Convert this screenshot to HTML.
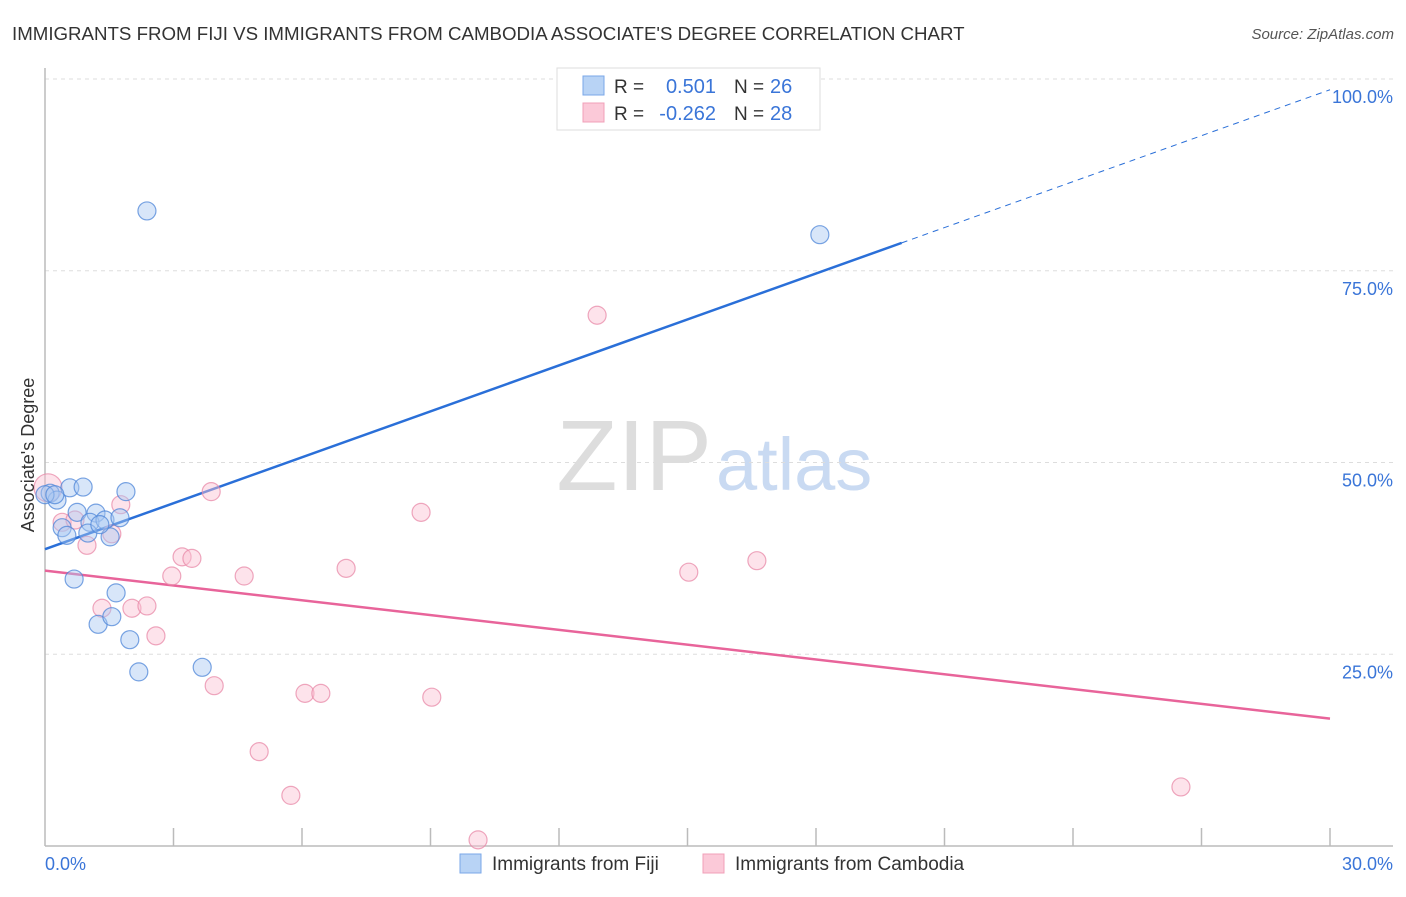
<!DOCTYPE html>
<html><head><meta charset="utf-8"><style>
body{margin:0;background:#fff;font-family:"Liberation Sans",sans-serif}
svg text{font-family:"Liberation Sans",sans-serif}
</style></head><body>
<svg id="chart" width="1406" height="892" xmlns="http://www.w3.org/2000/svg">
<text x="12" y="40" font-size="18.7" fill="#333">IMMIGRANTS FROM FIJI VS IMMIGRANTS FROM CAMBODIA ASSOCIATE'S DEGREE CORRELATION CHART</text>
<text x="1394" y="39" font-size="15" fill="#555" font-style="italic" text-anchor="end">Source: ZipAtlas.com</text>
<text x="712" y="490" font-size="100" fill="#ddd" text-anchor="end" font-family="Liberation Serif">ZIP</text>
<text x="716" y="490" font-size="74" fill="#c9daf2">atlas</text>
<g id="grid"></g>
<g id="axes"></g>
<g id="lines"></g>
<g id="points"></g>
<text transform="translate(34,455) rotate(-90)" font-size="18" fill="#333" text-anchor="middle">Associate's Degree</text>
<g>
<rect x="557" y="68" width="263" height="62" fill="#fff" stroke="#ddd"/>
<rect x="583" y="76" width="21" height="19" fill="#b8d3f5" stroke="#7aa7e8"/>
<rect x="583" y="103" width="21" height="19" fill="#fbc9d8" stroke="#f0a0b8"/>
<text x="614" y="93" font-size="19" fill="#333">R = </text>
<text x="716" y="93" font-size="20" fill="#3a75d8" text-anchor="end">0.501</text>
<text x="734" y="93" font-size="19" fill="#333">N = </text>
<text x="770" y="93" font-size="20" fill="#3a75d8">26</text>
<text x="614" y="120" font-size="19" fill="#333">R = </text>
<text x="716" y="120" font-size="20" fill="#3a75d8" text-anchor="end">-0.262</text>
<text x="734" y="120" font-size="19" fill="#333">N = </text>
<text x="770" y="120" font-size="20" fill="#3a75d8">28</text>
</g>
<g>
<rect x="460" y="854" width="21" height="19" fill="#b8d3f5" stroke="#7aa7e8"/>
<text x="492" y="870" font-size="19" fill="#333">Immigrants from Fiji</text>
</g>
<g>
<rect x="703" y="854" width="21" height="19" fill="#fbc9d8" stroke="#f0a0b8"/>
<text x="735" y="870" font-size="19" fill="#333">Immigrants from Cambodia</text>
</g>
</svg>
<script>
const fijiX=[2.38,18.09,0.12,0.28,0.58,0.89,1.89,0.75,1.19,0.40,1.05,1.40,1.75,0.51,1.00,1.52,0.68,1.66,1.24,1.56,1.98,2.19,3.67,0.0,0.23,1.28];
const fijiY=[82.8,79.7,46.0,45.1,46.7,46.8,46.2,43.5,43.4,41.5,42.2,42.5,42.8,40.5,40.8,40.3,34.8,33.0,28.9,29.9,26.9,22.7,23.3,45.8,45.8,41.9];
const camX=[0.07,12.89,3.88,8.78,1.77,0.40,0.70,0.98,1.56,3.20,3.43,2.96,4.65,7.03,15.03,16.62,1.33,2.03,2.38,2.59,3.95,6.07,6.44,9.03,5.00,5.74,10.11,26.52];
const camY=[46.7,69.2,46.2,43.5,44.5,42.2,42.5,39.2,40.7,37.7,37.5,35.2,35.2,36.2,35.7,37.2,31.0,31.0,31.3,27.4,20.9,19.9,19.9,19.4,12.3,6.6,0.8,7.7];
const yTicks=[25,50,75,100];
const yTickLabels=["25.0%","50.0%","75.0%","100.0%"];
const xTickLabels=["0.0%","30.0%"];
const fijiTrend=[38.7,98.6];
const camTrend=[35.9,16.6];
const NS="http://www.w3.org/2000/svg";
const X0=45,X1=1330,Y0=846,Y100=79;
const sx=v=>X0+v/30*(X1-X0);
const sy=v=>Y0-v/100*(Y0-Y100);
function mk(tag,attrs,parent){const e=document.createElementNS(NS,tag);for(const k in attrs)e.setAttribute(k,attrs[k]);document.getElementById(parent).appendChild(e);return e;}
yTicks.forEach((t,i)=>{
 const g=mk('line',{x1:X0,x2:1393,y1:sy(t),y2:sy(t),stroke:'#ddd','stroke-dasharray':'4,4'},'grid');
 
 
 const l=mk('text',{x:1393,y:sy(t)+24,'font-size':18,fill:'#3a75d8','text-anchor':'end'},'grid');
 l.textContent=yTickLabels[i];
 
 
});
const ax=mk('line',{x1:X0,x2:X0,y1:68,y2:Y0,stroke:'#bbb','stroke-width':1.5},'axes');


const bx=mk('line',{x1:X0,x2:1393,y1:Y0,y2:Y0,stroke:'#bbb','stroke-width':1.5},'axes');


for(let i=1;i<=10;i++){
 const t=mk('line',{x1:sx(i*3),x2:sx(i*3),y1:828,y2:Y0,stroke:'#bbb','stroke-width':1.5},'axes');
 
 
}
const xl0=mk('text',{x:45,y:870,'font-size':18,fill:'#3a75d8'},'axes');xl0.textContent=xTickLabels[0];


const xl1=mk('text',{x:1393,y:870,'font-size':18,fill:'#3a75d8','text-anchor':'end'},'axes');xl1.textContent=xTickLabels[1];


function pts(xs,ys,fill,stroke,name){
 xs.forEach((x,i)=>{
  const r=(name==='cambodia-point'&&i===0)?14:9;
  const c=mk('circle',{cx:sx(x),cy:sy(ys[i]),r:r,fill:fill,'fill-opacity':0.45,stroke:stroke,'stroke-opacity':0.75,'stroke-width':1.2},'points');
  
  
 });
}
pts(camX,camY,'#fbc0d2','#e889a8','cambodia-point');
pts(fijiX,fijiY,'#a9c8f2','#4d86d8','fiji-point');
const fy=x=>fijiTrend[0]+(fijiTrend[1]-fijiTrend[0])*x/30;
const fl=mk('line',{x1:sx(0),y1:sy(fy(0)),x2:sx(20),y2:sy(fy(20)),stroke:'#2a6fd8','stroke-width':2.5},'lines');


const fd=mk('line',{x1:sx(20),y1:sy(fy(20)),x2:sx(30),y2:sy(fy(30)),stroke:'#2a6fd8','stroke-width':1,'stroke-dasharray':'6,5'},'lines');


const cl=mk('line',{x1:sx(0),y1:sy(camTrend[0]),x2:sx(30),y2:sy(camTrend[1]),stroke:'#e8649a','stroke-width':2.5},'lines');


</script>
</body></html>
